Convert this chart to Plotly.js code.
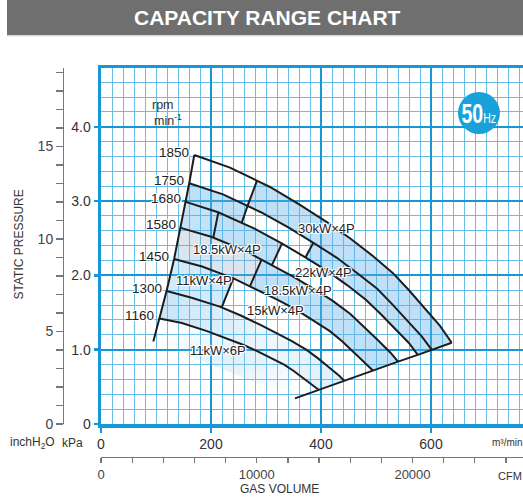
<!DOCTYPE html>
<html>
<head>
<meta charset="utf-8">
<script src="https://cdn.plot.ly/plotly-3.0.1.min.js"></script>
<style>
  html, body { margin: 0; padding: 0; overflow: hidden; background: #fff; }
  #chart { width: 530px; height: 499px; }
</style>
</head>
<body>
<div id="chart"></div>
<script>
// ---- Fan curves: gas volume (m3/min) vs static pressure (kPa), one per speed ----
const rpmList = [1850, 1750, 1680, 1580, 1450, 1300, 1160];

const q1850 = [169.6, 234.5, 307.3, 361.8, 410.0, 452.7, 492.7, 530.9, 560.0, 585.8, 616.4, 637.6];
const p1850 = [3.62, 3.45, 3.19, 2.95, 2.72, 2.50, 2.27, 2.03, 1.80, 1.58, 1.32, 1.094];

const q1750 = [160.4, 221.8, 290.7, 342.2, 387.8, 428.2, 466.1, 502.2, 529.7, 554.1, 583.1, 601.2];
const p1750 = [3.24, 3.09, 2.85, 2.64, 2.43, 2.24, 2.03, 1.82, 1.61, 1.41, 1.18, 1.00];

const q1680 = [154.0, 213.0, 279.1, 328.6, 372.3, 411.1, 447.4, 482.1, 508.5, 532.0, 559.8, 575.9];
const p1680 = [2.99, 2.85, 2.63, 2.43, 2.24, 2.06, 1.87, 1.67, 1.48, 1.30, 1.09, 0.93];

const q1580 = [144.8, 200.3, 262.4, 309.0, 350.2, 386.6, 420.8, 453.4, 478.3, 500.3, 526.4, 540.1];
const p1580 = [2.64, 2.52, 2.33, 2.15, 1.98, 1.82, 1.66, 1.48, 1.31, 1.15, 0.96, 0.84];

const q1450 = [132.9, 183.8, 240.9, 283.6, 321.3, 354.8, 386.2, 416.1, 438.9, 459.1, 483.1, 494.3];
const p1450 = [2.22, 2.12, 1.96, 1.81, 1.67, 1.54, 1.39, 1.25, 1.11, 0.97, 0.81, 0.72];

const q1300 = [119.2, 164.8, 215.9, 254.2, 288.1, 318.1, 346.2, 373.1, 393.5, 411.6, 433.1, 442.5];
const p1300 = [1.79, 1.70, 1.58, 1.46, 1.34, 1.23, 1.12, 1.00, 0.89, 0.78, 0.65, 0.58];

const q1160 = [106.3, 147.0, 192.7, 226.9, 257.1, 283.9, 308.9, 332.9, 351.1, 367.3, 386.5, 395.6];
const p1160 = [1.42, 1.36, 1.25, 1.16, 1.07, 0.98, 0.89, 0.80, 0.71, 0.62, 0.52, 0.46];

// lower ends of the two boundary lines
const leftFootQ = 95.1, leftFootP = 1.11;
const bottomFootQ = 352.7, bottomFootP = 0.345;

// motor-size dividers: [upper speed, lower speed], volume where they meet each curve
const dividerCurves = [[1850, 1750], [1750, 1680], [1750, 1680], [1680, 1580], [1680, 1580], [1580, 1450], [1450, 1300]];
const dividerQTop    = [283.6, 266.4, 386.0, 213.3, 329.0, 292.2, 240.5];
const dividerQBottom = [266.4, 255.8, 371.8, 204.2, 311.0, 270.9, 219.5];

// motor labels
const motorLabels = ['30kW×4P', '22kW×4P', '18.5kW×4P', '18.5kW×4P', '11kW×4P', '15kW×4P', '11kW×6P'];

// axis ticks
const volTicks = [0, 200, 400, 600];
const kpaTicks = [0, 1, 2, 3, 4];
const kpaText = ['0', '1.0', '2.0', '3.0', '4.0'];
const inchTicks = [0, 5, 10, 15];
const cfmTicks = [0, 10000, 20000];

// ---------------------------------------------------------------------------
const curves = {
  1850: {q: q1850, p: p1850}, 1750: {q: q1750, p: p1750}, 1680: {q: q1680, p: p1680},
  1580: {q: q1580, p: p1580}, 1450: {q: q1450, p: p1450}, 1300: {q: q1300, p: p1300},
  1160: {q: q1160, p: p1160}
};

function interp(c, q) {
  for (let i = 0; i < c.q.length - 1; i++) {
    if (q >= c.q[i] && q <= c.q[i + 1]) {
      const t = (q - c.q[i]) / (c.q[i + 1] - c.q[i]);
      return c.p[i] + t * (c.p[i + 1] - c.p[i]);
    }
  }
  return q < c.q[0] ? c.p[0] : c.p[c.p.length - 1];
}
function slice(c, qa, qb) {
  const q = [qa], p = [interp(c, qa)];
  for (let i = 0; i < c.q.length; i++) {
    if (c.q[i] > qa && c.q[i] < qb) { q.push(c.q[i]); p.push(c.p[i]); }
  }
  q.push(qb); p.push(interp(c, qb));
  return {q, p};
}
const last = a => a[a.length - 1];

const BLUE  = 'rgba(95,178,232,0.40)';
const BLUE2 = 'rgba(95,178,232,0.36)';
const GREY  = 'rgba(140,170,200,0.30)';
const PALE  = 'rgba(110,185,235,0.30)';

// shaded motor zones between neighbouring speed curves
const zones = [
  {up: 1850, lo: 1750, from: 0, to: null, color: BLUE},
  {up: 1750, lo: 1680, from: null, to: 1, color: BLUE},
  {up: 1750, lo: 1680, from: 2, to: null, color: BLUE},
  {up: 1680, lo: 1580, from: null, to: 3, color: BLUE2},
  {up: 1680, lo: 1580, from: 3, to: 4, color: BLUE},
  {up: 1580, lo: 1450, from: null, to: 5, color: GREY},
  {up: 1580, lo: 1450, from: 5, to: null, color: BLUE},
  {up: 1450, lo: 1300, from: null, to: 6, color: PALE},
  {up: 1300, lo: 1160, from: null, to: null, color: null}
];

const traces = [];

// soft glow under the lowest curve
(function () {
  const c = curves[1160];
  traces.push({
    type: 'scatter', mode: 'none', fill: 'toself', hoverinfo: 'skip', showlegend: false,
    x: [leftFootQ].concat(c.q, [bottomFootQ, leftFootQ]),
    y: [leftFootP].concat(c.p, [bottomFootP, leftFootP]),
    fillcolor: 'rgba(150,205,240,0.18)',
    fillgradient: {type: 'radial', colorscale: [[0, 'rgba(150,205,240,0.32)'], [1, 'rgba(150,205,240,0.02)']]}
  });
})();

zones.forEach(z => {
  const U = curves[z.up], L = curves[z.lo];
  const ua = z.from === null ? U.q[0] : dividerQTop[z.from];
  const la = z.from === null ? L.q[0] : dividerQBottom[z.from];
  const ub = z.to === null ? last(U.q) : dividerQTop[z.to];
  const lb = z.to === null ? last(L.q) : dividerQBottom[z.to];
  const a = slice(U, ua, ub), b = slice(L, la, lb);
  const tr = {
    type: 'scatter', mode: 'none', fill: 'toself', hoverinfo: 'skip', showlegend: false,
    x: a.q.concat(b.q.slice().reverse(), [a.q[0]]),
    y: a.p.concat(b.p.slice().reverse(), [a.p[0]])
  };
  if (z.color) {
    tr.fillcolor = z.color;
  } else {
    tr.fillcolor = 'rgba(110,185,235,0.25)';
    tr.fillgradient = {type: 'horizontal', colorscale: [[0, 'rgba(110,185,235,0.38)'], [0.6, 'rgba(110,185,235,0.12)'], [1, 'rgba(110,185,235,0.22)']]};
  }
  traces.push(tr);
});

const INK = '#1d1d1d';
const lineStyle = {color: INK, width: 2};

// speed curves
rpmList.forEach(r => {
  traces.push({type: 'scatter', mode: 'lines', x: curves[r].q, y: curves[r].p,
    line: lineStyle, hoverinfo: 'skip', showlegend: false});
});

// boundary lines through the curve ends
traces.push({type: 'scatter', mode: 'lines', hoverinfo: 'skip', showlegend: false, line: lineStyle,
  x: [leftFootQ].concat(rpmList.slice().reverse().map(r => curves[r].q[0])),
  y: [leftFootP].concat(rpmList.slice().reverse().map(r => curves[r].p[0]))});
traces.push({type: 'scatter', mode: 'lines', hoverinfo: 'skip', showlegend: false, line: lineStyle,
  x: [bottomFootQ].concat(rpmList.slice().reverse().map(r => last(curves[r].q))),
  y: [bottomFootP].concat(rpmList.slice().reverse().map(r => last(curves[r].p)))});

// dividers
dividerCurves.forEach((pair, i) => {
  const U = curves[pair[0]], L = curves[pair[1]];
  traces.push({type: 'scatter', mode: 'lines', hoverinfo: 'skip', showlegend: false, line: lineStyle,
    x: [dividerQTop[i], dividerQBottom[i]],
    y: [interp(U, dividerQTop[i]), interp(L, dividerQBottom[i])]});
});

// placeholders so the secondary scales get drawn
traces.push({type: 'scatter', x: [], y: [], xaxis: 'x', yaxis: 'y2', showlegend: false, hoverinfo: 'skip'});
traces.push({type: 'scatter', x: [], y: [], xaxis: 'x2', yaxis: 'y', showlegend: false, hoverinfo: 'skip'});

// ---------------------------------------------------------------------------
const W = 530, H = 499;
const fx = px => px / W;
const fy = py => 1 - py / H;
const FONT = 'Liberation Sans, Arial, Helvetica, sans-serif';
const TXT = '#333';
const GRIDBLUE = '#1698d6';
const HALO = '-1px -1px 0 #fff, 1px -1px 0 #fff, -1px 1px 0 #fff, 1px 1px 0 #fff, 0 0 2px #fff';

const xMax = (W - 101) / 0.55;       // m3/min at the right edge
const yMax = 356 / 74.3;             // kPa at the top edge
const KPA_PER_INCH = 0.249089;
const CFM_PER_M3MIN = 35.3147;

const annotations = [];
function note(text, px, py, opt) {
  annotations.push(Object.assign({
    text, x: fx(px), y: fy(py), xref: 'paper', yref: 'paper', showarrow: false,
    xanchor: 'center', yanchor: 'middle', font: {family: FONT, size: 12, color: TXT}
  }, opt || {}));
}

note('<b>CAPACITY RANGE CHART</b>', 267.5, 17.5, {font: {family: FONT, size: 21, color: '#ffffff'}});
note('STATIC PRESSURE', 18.5, 245, {textangle: -90, font: {family: FONT, size: 12, color: TXT}});
note('inchH<sub>2</sub>O', 32.5, 442.5, {font: {family: FONT, size: 12, color: TXT}});
note('kPa', 72, 442.5, {font: {family: FONT, size: 12, color: TXT}});
note('m³/min', 507.5, 442, {font: {family: FONT, size: 10, color: TXT}});
note('CFM', 509.5, 476, {font: {family: FONT, size: 11, color: TXT}});
note('GAS VOLUME', 279.5, 489, {font: {family: FONT, size: 12, color: TXT}});
note('rpm', 162.5, 104.5, {font: {family: FONT, size: 12.5, color: TXT}});
note('min<sup>-1</sup>', 151.5, 120, {xanchor: 'left', font: {family: FONT, size: 12.5, color: TXT}});
note('<b>50</b><span style="font-size:15px">Hz</span>', 479, 113,
  {name: 'badge', font: {family: FONT, size: 28, color: '#ffffff'}});

// speed labels beside each curve start
rpmList.forEach(r => {
  annotations.push({
    text: String(r), x: curves[r].q[0], y: curves[r].p[0], xref: 'x', yref: 'y',
    showarrow: false, xanchor: 'right', yanchor: 'middle', xshift: -3, yshift: 3,
    font: {family: FONT, size: 13.5, color: '#222', shadow: HALO}
  });
});

// motor labels (volume, pressure)
const motorAt = [[409.1, 2.638], [404.2, 2.042], [228.5, 2.342], [358.7, 1.803], [187.3, 1.938], [316.4, 1.534], [213.3, 0.996]];
motorLabels.forEach((t, i) => {
  annotations.push({
    text: t, x: motorAt[i][0], y: motorAt[i][1], xref: 'x', yref: 'y', showarrow: false,
    xanchor: 'center', yanchor: 'middle',
    font: {family: FONT, size: 13, color: '#222', shadow: HALO}
  });
});

const layout = {
  width: W, height: H, autosize: false,
  margin: {l: 0, r: 0, t: 0, b: 0, pad: 0},
  paper_bgcolor: '#ffffff', plot_bgcolor: '#ffffff',
  showlegend: false, hovermode: false,
  xaxis: {
    domain: [fx(101), 1], range: [0, xMax], fixedrange: true,
    tickmode: 'array', tickvals: volTicks, ticktext: volTicks.map(String),
    ticks: 'outside', ticklen: 5, tickwidth: 2.5, tickcolor: GRIDBLUE,
    tickfont: {family: FONT, size: 14, color: TXT},
    showline: true, linewidth: 3.5, linecolor: GRIDBLUE, mirror: true,
    showgrid: true, gridcolor: GRIDBLUE, gridwidth: 2.2, zeroline: false,
    minor: {tickmode: 'linear', tick0: 0, dtick: 20, showgrid: true, gridcolor: '#66bde6', gridwidth: 1, ticks: ''}
  },
  yaxis: {
    domain: [fy(424), fy(68)], range: [0, yMax], fixedrange: true,
    tickmode: 'array', tickvals: kpaTicks, ticktext: kpaText,
    ticks: 'outside', ticklen: 4, tickwidth: 2.5, tickcolor: GRIDBLUE,
    tickfont: {family: FONT, size: 14, color: TXT},
    showline: true, linewidth: 3.5, linecolor: GRIDBLUE, mirror: true,
    showgrid: true, gridcolor: GRIDBLUE, gridwidth: 2.2, zeroline: false,
    minor: {tickmode: 'linear', tick0: 0, dtick: 0.2, showgrid: true, gridcolor: '#66bde6', gridwidth: 1, ticks: ''}
  },
  yaxis2: {
    overlaying: 'y', anchor: 'free', position: fx(63), side: 'left',
    range: [0, yMax / KPA_PER_INCH], fixedrange: true,
    tickmode: 'array', tickvals: inchTicks, ticktext: inchTicks.map(String),
    ticks: 'outside', ticklen: 7, tickwidth: 1.3, tickcolor: '#777',
    tickfont: {family: FONT, size: 14, color: '#444'},
    showline: true, linewidth: 1.3, linecolor: '#777',
    showgrid: false, zeroline: false,
    minor: {tickmode: 'linear', tick0: 0, dtick: 1, ticks: 'outside', ticklen: 7, tickwidth: 1.3, tickcolor: '#777', showgrid: false}
  },
  xaxis2: {
    overlaying: 'x', anchor: 'free', position: fy(457), side: 'bottom',
    range: [0, xMax * CFM_PER_M3MIN], fixedrange: true,
    tickmode: 'array', tickvals: cfmTicks, ticktext: cfmTicks.map(String),
    ticks: 'outside', ticklen: 5, tickwidth: 1.3, tickcolor: '#777',
    tickfont: {family: FONT, size: 13, color: '#444'},
    showline: true, linewidth: 1.3, linecolor: '#777',
    showgrid: false, zeroline: false,
    minor: {tickmode: 'linear', tick0: 0, dtick: 2000, ticks: 'outside', ticklen: 5, tickwidth: 1.3, tickcolor: '#777', showgrid: false}
  },
  shapes: [
    {type: 'rect', xref: 'paper', yref: 'paper', x0: fx(7), x1: 1.05, y0: fy(35), y1: 1.01,
      fillcolor: '#6f6f6f', line: {width: 0}, layer: 'above'},
    {type: 'line', xref: 'paper', yref: 'paper', x0: fx(7), x1: 1.05, y0: fy(35.8), y1: fy(35.8),
      line: {color: '#c8c8c8', width: 1}, layer: 'above'},
    {type: 'circle', xref: 'paper', yref: 'paper', x0: fx(458), x1: fx(500), y0: fy(134), y1: fy(92),
      fillcolor: '#1aa1da', line: {width: 0}, layer: 'above'}
  ],
  annotations
};

Plotly.newPlot('chart', traces, layout, {staticPlot: true, displayModeBar: false}).then(gd => {
  // squeeze the 50Hz badge text into a condensed face
  gd.querySelectorAll('.annotation-text').forEach(t => {
    if (t.textContent === '50Hz') {
      const bb = t.getBBox();
      const cx = bb.x + bb.width / 2;
      t.setAttribute('transform', 'translate(' + cx + ',0) scale(0.7,1) translate(' + (-cx) + ',0)');
    }
  });
});
</script>
</body>
</html>
